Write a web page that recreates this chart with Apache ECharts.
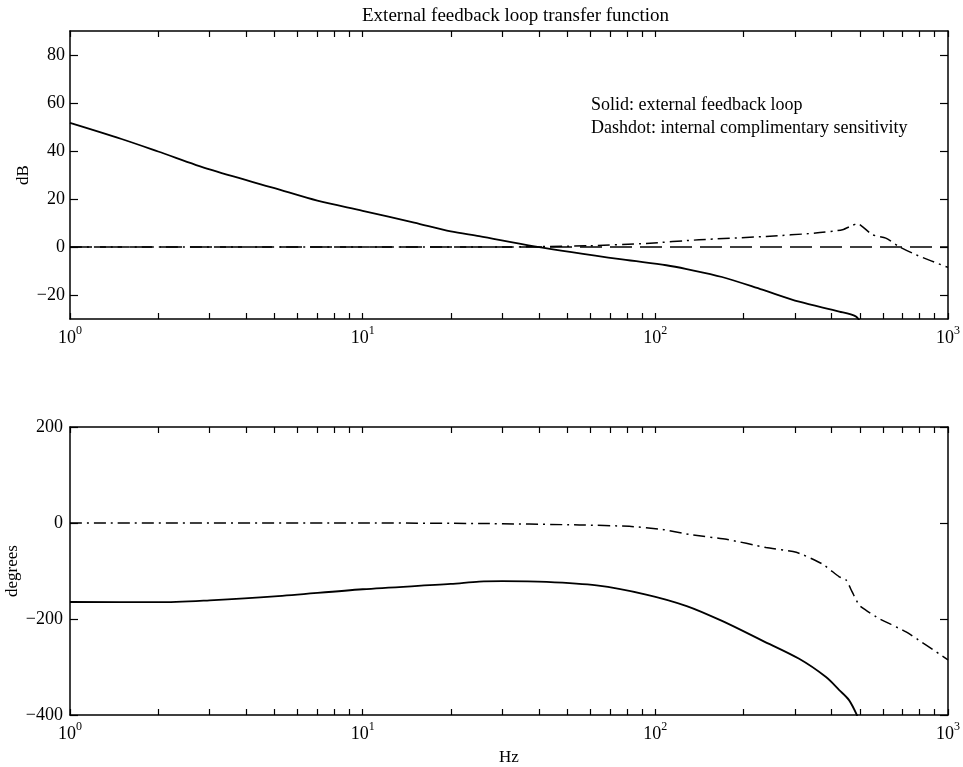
<!DOCTYPE html>
<html><head><meta charset="utf-8">
<script src="https://cdn.jsdelivr.net/npm/echarts@6/dist/echarts.min.js"></script>
<style>html,body{margin:0;padding:0;background:#fff}#c{width:963px;height:767px}</style>
</head><body><div id="c"></div>
<script>
// ---------- data ----------
const titleText = 'External feedback loop transfer function';
const noteLines = ['Solid: external feedback loop', 'Dashdot: internal complimentary sensitivity'];

const xMajorTicks = [1, 10, 100, 1000];
const xMinorTicks = [1,2,3,4,5,6,7,8,9,10,20,30,40,50,60,70,80,90,100,200,300,400,500,600,700,800,900,1000];
const magTicks = [-20, 0, 20, 40, 60, 80];
const phaseTicks = [-400, -200, 0, 200];

// magnitude, external loop (solid)
const magExtFreq = [1, 1.5, 2, 3, 5, 7, 10, 15, 20, 25, 38.6, 77, 109, 128, 169, 232, 310, 425, 484, 500];
const magExtDb   = [51.7, 45, 39.8, 32.3, 24.5, 19.3, 15.1, 10.2, 6.5, 4.5, 0.3, -5.2, -7.6, -9.2, -12.5, -17.8, -22.8, -26.9, -28.9, -31];

// magnitude, internal complementary sensitivity (dashdot)
const magIntFreq = [1, 10, 30, 59.5, 93, 141, 239, 353, 436, 471, 490, 510, 552, 613, 680, 776, 1000];
const magIntDb   = [0, 0, 0, 0.5, 1.5, 3.0, 4.4, 5.8, 7.2, 9.0, 9.8, 8.5, 5.1, 3.7, 0.2, -3.2, -8.5];

// 0 dB reference (dashed)
const zeroFreq = [1, 1000];
const zeroDb   = [0, 0];

// phase, external loop (solid)
const phExtFreq = [1, 2, 3, 5, 10, 20, 25, 30, 42.5, 63, 93, 128, 169, 232, 310, 383, 425, 459, 490];
const phExtDeg  = [-164.6, -165, -161, -153, -138, -127, -122, -121, -122.5, -130, -149, -173, -204, -245, -283, -321, -348, -369, -402];

// phase, internal complementary sensitivity (dashdot)
const phIntFreq = [1, 10, 25, 55, 81.5, 106, 131, 175, 239, 303, 371, 425, 449, 470, 497, 525, 581, 719, 1000];
const phIntDeg  = [0, 0, -1, -4, -7, -13.5, -24, -34, -51, -61, -85, -112, -119, -143, -171, -182, -199, -227, -285];

// ---------- chart ----------
const FONT = '"Liberation Serif","DejaVu Serif",serif';
const zip = (a, b) => a.map((v, i) => [v, b[i]]);

function xAx(gridIndex, position, showLabel, name) {
  return {
    type: 'log', logBase: 10, min: 1, max: 1000, gridIndex, position,
    name: name || '', nameLocation: 'middle', nameGap: 34, nameMoveOverlap: false,
    nameTextStyle: { fontFamily: FONT, fontSize: 17, color: '#000' },
    axisLine: { show: true, onZero: false, lineStyle: { color: '#000', width: 1.5 } },
    axisTick: { show: true, inside: true, length: 6, customValues: xMinorTicks, lineStyle: { color: '#000', width: 1.2 } },
    axisLabel: {
      show: showLabel, customValues: xMajorTicks, margin: 6,
      formatter: v => '{b|10}{s|' + Math.round(Math.log10(v)) + '}',
      rich: {
        b: { fontFamily: FONT, fontSize: 18, color: '#000', verticalAlign: 'bottom', lineHeight: 22 },
        s: { fontFamily: FONT, fontSize: 12, color: '#000', verticalAlign: 'top', lineHeight: 22 }
      }
    },
    splitLine: { show: false }, minorSplitLine: { show: false }
  };
}
function yAx(gridIndex, position, showLabel, min, max, ticks, name, nameGap, margin) {
  return {
    type: 'value', gridIndex, position, min, max,
    name: name || '', nameLocation: 'middle', nameGap: nameGap || 0, nameRotate: 90, nameMoveOverlap: false,
    nameTextStyle: { fontFamily: FONT, fontSize: 17, color: '#000' },
    axisLine: { show: true, onZero: false, lineStyle: { color: '#000', width: 1.5 } },
    axisTick: { show: true, inside: true, length: 8, customValues: ticks, lineStyle: { color: '#000', width: 1.2 } },
    axisLabel: {
      show: showLabel, customValues: ticks, margin: margin || 5,
      fontFamily: FONT, fontSize: 18, color: '#000',
      formatter: v => (v < 0 ? '\u2212' + Math.abs(v) : String(v))
    },
    splitLine: { show: false }
  };
}

const chart = echarts.init(document.getElementById('c'), null, { renderer: 'canvas' });
chart.setOption({
  backgroundColor: '#fff',
  animation: false,
  title: {
    text: titleText, left: 357, top: 2,
    textStyle: { fontFamily: FONT, fontSize: 19, fontWeight: 'normal', color: '#000' }
  },
  grid: [
    { left: 70, top: 31, width: 878, height: 288, outerBoundsMode: 'none', containLabel: false },
    { left: 70, top: 427, width: 878, height: 288, outerBoundsMode: 'none', containLabel: false }
  ],
  xAxis: [
    xAx(0, 'bottom', true),
    xAx(0, 'top', false),
    xAx(1, 'bottom', true, 'Hz'),
    xAx(1, 'top', false)
  ],
  yAxis: [
    yAx(0, 'left', true, -30, 90, magTicks, 'dB', 38, 5),
    yAx(0, 'right', false, -30, 90, magTicks),
    yAx(1, 'left', true, -400, 200, phaseTicks, 'degrees', 49, 7),
    yAx(1, 'right', false, -400, 200, phaseTicks)
  ],
  graphic: noteLines.map((t, i) => ({
    type: 'text', left: 591, top: 96 + i * 23,
    style: { text: t, font: '18px ' + FONT, fill: '#000' }
  })),
  series: [
    { type: 'line', name: 'zero', xAxisIndex: 0, yAxisIndex: 0, data: zip(zeroFreq, zeroDb), symbol: 'none',
      lineStyle: { color: '#000', width: 1.4, type: [22, 8] } },
    { type: 'line', name: 'ext mag', xAxisIndex: 0, yAxisIndex: 0, data: zip(magExtFreq, magExtDb), symbol: 'none',
      smooth: 0.3, lineStyle: { color: '#000', width: 1.8 } },
    { type: 'line', name: 'int mag', xAxisIndex: 0, yAxisIndex: 0, data: zip(magIntFreq, magIntDb), symbol: 'none',
      smooth: 0.2, lineStyle: { color: '#000', width: 1.5, type: [12, 5, 2, 5] } },
    { type: 'line', name: 'ext phase', xAxisIndex: 2, yAxisIndex: 2, data: zip(phExtFreq, phExtDeg), symbol: 'none',
      smooth: 0.3, lineStyle: { color: '#000', width: 1.8 } },
    { type: 'line', name: 'int phase', xAxisIndex: 2, yAxisIndex: 2, data: zip(phIntFreq, phIntDeg), symbol: 'none',
      smooth: 0.2, lineStyle: { color: '#000', width: 1.5, type: [12, 5, 2, 5] } }
  ]
});
</script></body></html>
